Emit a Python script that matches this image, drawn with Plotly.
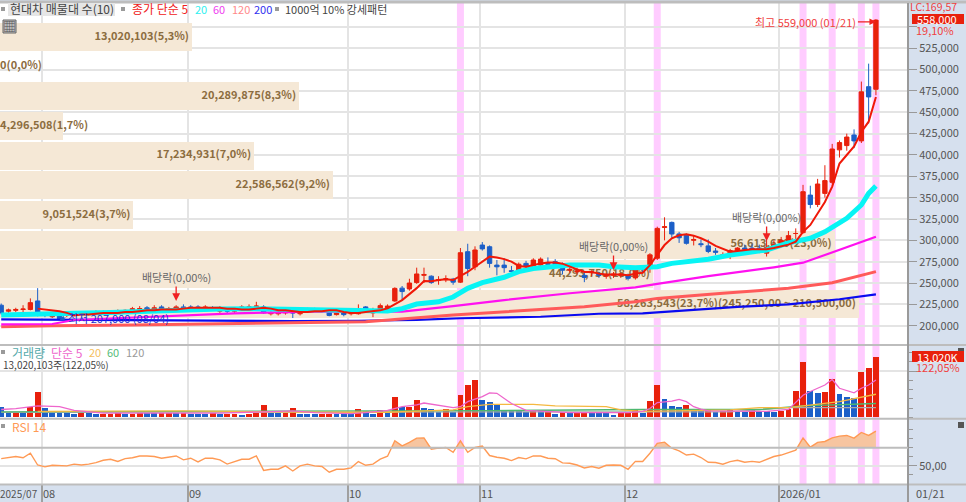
import numpy as np
import plotly.graph_objects as go

# candles, thousand won, one row per trading day (10 per line)
open_k = [224, 217, 218, 219, 219, 229, 212, 210.5, 214, 212,
          213, 215, 214, 215, 216, 215, 216, 216, 217, 219,
          221, 219, 222, 219, 218, 222, 222, 222, 220, 221,
          217, 218, 217, 220, 221, 222, 222, 214, 214, 215,
          216, 214, 217, 219, 218, 216, 213, 215, 214, 214,
          222, 215, 217.5, 220, 229, 244, 243, 250.5, 259, 258,
          253, 254, 254.5, 251, 286.7, 269, 294.5, 292.5, 271, 271,
          264.5, 264, 273, 270.3, 271, 273, 275, 272, 265, 263,
          259, 262, 261, 258, 259, 259, 259, 256, 267, 267,
          279, 315, 321, 307.5, 306, 300, 296, 293.5, 287.5, 282,
          284, 288, 291, 291, 291, 285, 292, 296, 296.5, 308,
          309, 353, 342, 355, 368, 406, 411, 423.4, 416.5, 480,
          477]
high_k = [226, 220, 221, 224, 232, 244, 214, 213, 215, 215,
          216, 217, 216, 218, 218, 218, 219, 219, 222, 223,
          223, 224, 224, 222, 224, 225, 224, 224, 224, 223,
          223, 219, 221, 224, 225, 228, 224, 217, 217, 220,
          218, 219, 221, 221, 219, 217, 216, 216, 216, 225,
          223, 221, 226, 225, 245, 246.5, 255, 268, 268, 259,
          258, 259, 256, 291, 296, 293, 298, 294, 277, 279,
          270, 274, 276, 279, 280, 280, 278, 274, 272, 268,
          264, 265, 263, 261, 263, 262, 261, 268, 270, 285,
          316, 327, 322, 310, 308, 306, 301, 301, 291, 286,
          290, 292, 295, 296, 295, 311, 300, 304, 311, 314,
          365, 364, 372, 388, 413, 417, 425, 430, 486, 507,
          559]
low_k = [213, 215, 216, 216, 218, 211, 210, 209, 207, 210,
         212, 213, 212, 213, 214, 213, 214, 214, 215, 217,
         217, 217, 217, 217, 216, 219, 219, 218, 218, 218,
         215, 214, 215, 218, 219, 220, 214, 212, 212, 213,
         209, 212, 215, 216, 216, 211, 212, 211, 212, 213,
         216, 210, 215, 218, 228, 229, 241, 249, 250, 249,
         248, 251, 248, 250, 258, 265, 288, 268, 259, 262,
         259, 262, 266, 266, 269, 267, 268, 260, 262, 260,
         251, 258, 256, 255, 256, 256, 253, 254, 262, 262,
         277, 300, 303, 297, 295, 294, 292, 285, 283, 279,
         278, 286, 286, 285, 285, 281, 289, 293, 295, 297,
         308, 337.5, 339, 350, 366, 397, 405, 408, 414, 437,
         470]
close_k = [215, 218.5, 219, 219.5, 227, 212, 212, 212, 208, 213,
           214, 214, 215, 216, 215, 217, 217, 218, 220, 220,
           219, 221, 219, 220, 222, 221, 221, 220, 222, 220,
           220.4, 217, 220, 222, 222, 223, 215, 215, 216, 218.5,
           215, 218, 219.5, 218, 217, 212, 215, 213, 214.5, 220,
           218, 218.5, 223.5, 223, 243.7, 240, 250, 260.6, 260, 250.5,
           254, 255, 251, 285.5, 267, 288.7, 290, 273, 269, 268,
           263.5, 272, 270, 277, 278, 272, 272, 265, 266, 264,
           256.5, 263, 259, 259.5, 260.5, 260.5, 255.5, 266, 266, 283,
           314, 316, 307.4, 303, 296.5, 301, 295, 287, 286, 283,
           288, 291, 289.5, 290, 289.5, 292, 295, 300, 305.5, 308,
           357, 342, 366, 370, 407, 414.5, 421, 416.5, 474, 468,
           558]

# the 5 day line only shows from the sixth candle on
ma5_days = list(range(5, 121))
ma5_k = [220, 219, 218, 217, 215,
         212, 213, 213, 214, 215, 215, 215, 216, 216, 217,
         218, 218, 219, 219, 219, 220, 221, 221, 221, 221,
         221, 220, 220, 219, 219, 220, 221, 220, 218, 218,
         217, 216, 216, 217, 217, 218, 218, 216, 215, 215,
         216, 217, 218, 220.4, 225, 230, 237, 244, 252.3, 252,
         253.5, 254.5, 253.5, 258, 263, 269, 275, 281, 280, 278,
         275, 270, 269, 271, 273, 274, 274, 272.7, 269, 266,
         263, 263, 261, 260, 260, 260, 259, 261, 262, 271,
         283, 294.5, 302.4, 306, 307, 305.5, 302.4, 298.4, 293.4, 289.8,
         286.7, 287.5, 288.7, 289.5, 289.5, 289.5, 291, 293, 295, 298.4,
         310, 318, 332, 345, 363, 390, 400, 410, 427, 439,
         468]

# longer averages, read at the bends of each line
ma20_idx = [0, 5, 10, 15, 20, 25, 30, 35, 40, 44, 53, 55, 57, 60, 62, 64, 66, 69, 71, 73, 76, 78, 82, 84, 87, 90, 92, 97, 100, 105, 108, 111, 113, 116, 118, 119, 120]
ma20_k = [212.5, 213, 214.5, 215.5, 217, 218.5, 219.5, 220, 219.5, 218.5, 217.2, 220, 225.4, 228, 233.6, 243.8, 250.4, 256.7, 263.3, 267, 269, 271, 271, 269, 268, 269, 273, 277.8, 282.8, 288.7, 297, 302.4, 310, 325.8, 341.4, 355, 363.6]
ma60_idx = [0, 7, 10, 23, 32, 43, 55, 62, 69, 78, 87, 90, 97, 106, 110, 113, 116, 120]
ma60_k = [201.6, 202, 206.7, 211.4, 214.5, 216.4, 216.4, 223, 230, 238, 245, 248.9, 258, 268.4, 273.8, 282.8, 291.8, 304.3]
ma120_idx = [0, 7, 18, 28, 40, 50, 62, 71, 80, 87, 90, 99, 108, 114, 120]
ma120_k = [198.9, 200, 200.8, 202, 202.8, 204.7, 212.5, 217.2, 222.3, 228, 232, 238, 243.8, 250.4, 263.3]
ma200_idx = [0, 10, 25, 40, 49, 57, 63, 74, 82, 88, 101, 108, 115, 120]
ma200_k = [207.5, 206.8, 206, 205.5, 205.8, 206.8, 208.7, 210.5, 214, 214.5, 222, 225, 231, 236.8]

# volume, million shares
volume_m = [2.3, 1.0, 1.0, 1.0, 2.2, 5.4, 2.0, 1.0, 1.0, 1.0,
            0.7, 1.0, 1.0, 0.7, 0.7, 0.7, 1.0, 0.7, 0.7, 1.0,
            0.9, 0.9, 0.9, 0.9, 0.9, 1.0, 0.7, 0.7, 0.7, 0.9,
            0.7, 0.7, 0.7, 0.6, 0.7, 0.9, 2.6, 0.9, 0.9, 0.9,
            2.0, 0.7, 0.7, 0.7, 0.7, 0.7, 0.7, 0.7, 0.7, 1.7,
            1.4, 0.8, 1.6, 1.1, 4.5, 2.3, 2.3, 3.8, 2.1, 1.7,
            1.2, 1.8, 1.2, 4.9, 6.9, 8.0, 3.8, 3.3, 2.7, 1.45,
            1.45, 1.45, 1.2, 1.4, 1.4, 1.1, 0.7, 1.1, 0.9, 0.9,
            1.2, 0.9, 0.9, 0.9, 0.6, 1.0, 1.0, 1.7, 1.0, 3.5,
            7.1, 4.0, 2.4, 2.2, 2.6, 1.6, 1.6, 1.9, 1.2, 1.4,
            1.8, 1.2, 1.2, 1.9, 1.4, 1.4, 1.2, 1.4, 1.8, 5.7,
            12.1, 5.6, 5.3, 5.5, 8.4, 5.1, 4.5, 4.1, 9.8, 10.7,
            13.02]
volume_rose = [0, 0, 1, 0, 1, 1, 0, 0, 0, 0,
               0, 1, 0, 0, 1, 1, 1, 0, 1, 1,
               0, 0, 1, 1, 0, 1, 0, 0, 0, 1,
               0, 1, 1, 0, 1, 1, 1, 0, 0, 1,
               1, 0, 0, 0, 1, 1, 0, 0, 0, 1,
               0, 0, 1, 0, 1, 0, 1, 1, 0, 0,
               0, 1, 0, 1, 1, 1, 0, 0, 0, 0,
               0, 0, 0, 1, 0, 1, 0, 1, 0, 1,
               1, 0, 0, 0, 0, 1, 1, 1, 0, 1,
               1, 0, 0, 0, 1, 0, 0, 1, 0, 1,
               1, 0, 0, 1, 0, 0, 0, 1, 1, 1,
               1, 0, 0, 1, 1, 0, 0, 0, 1, 1,
               1]

vol_ma5_idx = [0, 2, 5, 8, 10, 14, 20, 30, 36, 40, 43, 48, 50, 53, 55, 57, 58, 60, 62, 63, 64, 66, 67, 68, 70, 72, 78, 86, 88, 89, 90, 92, 93, 94, 95, 96, 97, 105, 108, 110, 111, 113, 114, 115, 117, 118, 119, 120]
vol_ma5 = [1.7, 1.9, 2.5, 2.3, 1.5, 0.9, 0.9, 0.9, 1.2, 1.4, 1.0, 0.8, 1.0, 1.5, 2.3, 2.7, 3.1, 2.6, 2.1, 2.3, 3.4, 4.5, 5.3, 5.2, 3.0, 1.5, 1.0, 1.0, 1.3, 1.9, 3.2, 3.5, 3.9, 3.4, 2.3, 1.8, 1.4, 1.3, 1.7, 4.8, 5.6, 7.0, 8.2, 6.3, 5.3, 6.3, 7.0, 8.1]
vol_ma20_idx = [5, 25, 44, 53, 62, 64, 67, 73, 76, 83, 85, 88, 100, 104, 108, 110, 115, 120]
vol_ma20 = [1.3, 1.4, 1.1, 1.1, 1.6, 2.3, 2.8, 2.8, 2.5, 2.3, 1.6, 1.3, 1.6, 2.1, 2.1, 2.5, 3.4, 5.0]
vol_ma60_idx = [0, 30, 53, 62, 67, 88, 104, 110, 120]
vol_ma60 = [1.2, 1.3, 1.3, 1.45, 1.45, 1.7, 1.7, 2.5, 3.0]
vol_ma120_idx = [0, 50, 100, 108, 120]
vol_ma120 = [1.1, 1.1, 1.2, 2.1, 2.1]

rsi = [58, 59.6, 60.4, 59, 64, 51, 49, 50.7, 50, 50,
       52, 51, 52, 53.7, 56.3, 57.4, 55, 58, 59, 61,
       61, 60.4, 58.5, 59.6, 61, 56.7, 58.5, 54.4, 58.5, 58.5,
       56.7, 52, 55, 57.4, 57.4, 61, 45, 46.3, 46.3, 50,
       44.4, 50, 52, 50, 49.3, 43, 46.3, 46.3, 47.8, 54.8,
       50.7, 51.9, 57.4, 60.7, 77.8, 72.2, 76, 80.7, 81, 68.5,
       69.6, 70.4, 65, 77.8, 65, 70.4, 71.9, 61.5, 59.6, 58.5,
       55.9, 59.3, 57.8, 61, 61, 58.5, 58, 53.3, 53, 51,
       47.8, 49.3, 47.4, 50.7, 51, 50.7, 46.3, 55, 54.8, 64,
       75, 76.3, 69.6, 66.7, 62, 63, 59.3, 54, 53.7, 51.9,
       54.8, 56.3, 54, 55, 54, 57.4, 60.4, 62, 65, 67.4,
       81, 70.7, 76, 77, 81, 83, 83.7, 80.7, 87, 83.7,
       88.5]

# volume profile, top bin first
profile_mid_k = [225.5 + 34.75 * k for k in range(9, -1, -1)]
profile_vol_m = [13.020103, 0, 20.289875, 4.296508, 17.234931, 22.586562, 9.051524, 56.61365, 44.29375, 58.263543]
profile_text = ["13,020,103(5,3%)", "0(0,0%)", "20,289,875(8,3%)", "4,296,508(1,7%)", "17,234,931(7,0%)",
                "22,586,562(9,2%)", "9,051,524(3,7%)", "56,613,650(23,0%)", "44,293,750(18,0%)",
                "58,263,543(23,7%)(245,250,00 ~ 210,500,00)"]

pink_days = [63, 90, 110, 114, 118, 120]
dividend_days = [24, 84, 105]
dividend_tip_k = [229, 265.3, 299.3]
month_days = [6, 26, 48, 66, 86, 107]
month_labels = ["08", "09", "10", "11", "12", "2026/01"]
price_ticks = list(range(200, 551, 25))

FONT = "Noto Sans CJK KR"
W, H = 966, 502
PLOT_R = 908 / W


def px(x):
    return x / W


def py(y):
    return 1 - y / H


def to_won(values):
    return (np.array(values) * 1000).tolist()


def note(x, y, text, color, size=11, **kw):
    # annotations carry about 2px of padding on the left
    return dict(xref="paper", yref="paper", x=px(x - 2), y=py(y), text=text, showarrow=False, xanchor="left",
                yanchor="middle", font=dict(family=FONT, size=size, color=color), **kw)


days = list(range(len(close_k)))
x_range = [-0.165, 124.4]
grid_x = [d - 0.36 for d in month_days]
GRID = "#E4E4E4"

fig = go.Figure()

# profile bars sit on the base axes so everything else draws over them
fig.add_trace(go.Bar(x=profile_vol_m, y=to_won(profile_mid_k), orientation="h", width=33000, marker_color="#F5E8D6",
                     marker_line_width=0, xaxis="x", yaxis="y"))
for vol, mid, label in zip(profile_vol_m, profile_mid_k, profile_text):
    fits = vol > 8
    fig.add_trace(go.Scatter(x=[vol - 0.2 if fits else 0], y=[mid * 1000], mode="text", text=[label],
                             textposition="middle left" if fits else "middle right",
                             textfont=dict(family=FONT, size=11, color="#8C6D3F", weight="bold"),
                             xaxis="x", yaxis="y"))

fig.add_trace(go.Candlestick(x=days, open=to_won(open_k), high=to_won(high_k), low=to_won(low_k), close=to_won(close_k),
                             increasing=dict(line=dict(color="#E8200C", width=1), fillcolor="#E8200C"),
                             decreasing=dict(line=dict(color="#1C5FC8", width=1), fillcolor="#1C5FC8"),
                             whiskerwidth=0, xaxis="x2", yaxis="y"))
fig.add_trace(go.Scatter(x=ma200_idx, y=to_won(ma200_k), mode="lines", line=dict(color="#0A0AF0", width=2.2), xaxis="x2", yaxis="y"))
fig.add_trace(go.Scatter(x=ma120_idx, y=to_won(ma120_k), mode="lines", line=dict(color="#FF5A5A", width=3), xaxis="x2", yaxis="y"))
fig.add_trace(go.Scatter(x=ma60_idx, y=to_won(ma60_k), mode="lines", line=dict(color="#FF10F0", width=2.2), xaxis="x2", yaxis="y"))
fig.add_trace(go.Scatter(x=ma20_idx, y=to_won(ma20_k), mode="lines", line=dict(color="#08F4F4", width=5), xaxis="x2", yaxis="y"))
fig.add_trace(go.Scatter(x=ma5_days, y=to_won(ma5_k), mode="lines", line=dict(color="#F01808", width=2), xaxis="x2", yaxis="y"))

# volume pane
fig.add_trace(go.Bar(x=days, y=volume_m, width=0.8, marker_line_width=0,
                     marker_color=["#E8200C" if up else "#1C5FC8" for up in volume_rose], xaxis="x3", yaxis="y3"))
for idx, vals, color in [(vol_ma120_idx, vol_ma120, "#A8A8A8"), (vol_ma60_idx, vol_ma60, "#4DB870"),
                         (vol_ma20_idx, vol_ma20, "#F5B840"), (vol_ma5_idx, vol_ma5, "#EE66CC")]:
    fig.add_trace(go.Scatter(x=idx, y=vals, mode="lines", line=dict(color=color, width=1.3), xaxis="x3", yaxis="y3"))

# rsi pane, the part above 70 gets filled
fill_x, fill_y = [], []
for i, r in enumerate(rsi):
    if i and (rsi[i - 1] - 70) * (r - 70) < 0:
        fill_x.append(i - 1 + (70 - rsi[i - 1]) / (r - rsi[i - 1]))
        fill_y.append(70)
    fill_x.append(i)
    fill_y.append(max(r, 70))
fig.add_trace(go.Scatter(x=fill_x, y=[70] * len(fill_x), mode="lines", line=dict(width=0), xaxis="x4", yaxis="y4"))
fig.add_trace(go.Scatter(x=fill_x, y=fill_y, mode="lines", line=dict(width=0), fill="tonexty", fillcolor="#F7C5A0", xaxis="x4", yaxis="y4"))
fig.add_trace(go.Scatter(x=days, y=rsi, mode="lines", line=dict(color="#FF9A55", width=1.4), xaxis="x4", yaxis="y4"))

shapes = []
for d in pink_days:
    shapes.append(dict(type="rect", xref="x2", yref="paper", x0=d - 0.48, x1=d + 0.48, y0=py(484), y1=py(3),
                       fillcolor="#FFCCFF", line_width=0, layer="below"))
for y, c, w in [(2, "#BDBDBD", 3), (345, "#BDBDBD", 2), (418.7, "#BDBDBD", 2), (484.5, "#BDBDBD", 2)]:
    shapes.append(dict(type="line", xref="paper", yref="paper", x0=0, x1=1, y0=py(y), y1=py(y), line=dict(color=c, width=w)))
shapes.append(dict(type="line", xref="paper", yref="paper", x0=PLOT_R, x1=PLOT_R, y0=0, y1=py(3), line=dict(color="#9A9A9A", width=2)))
shapes.append(dict(type="line", xref="x4", yref="y4", x0=x_range[0], x1=x_range[1], y0=70, y1=70, line=dict(color="#BDBDBD", width=2)))

# legend furniture
squares = [(3, 9), (123, 9), (277, 9), (3, 352), (3, 426)]
for x, y in squares:
    shapes.append(dict(type="rect", xref="paper", yref="paper", x0=px(x - 2), x1=px(x + 2), y0=py(y + 2), y1=py(y - 2),
                       fillcolor="#9A9A9A", line_width=0))
for y in (351, 425):
    shapes.append(dict(type="rect", xref="paper", yref="paper", x0=px(958), x1=px(964), y0=py(y + 3), y1=py(y - 3),
                       fillcolor="#555555", line_width=0))
for y0, y1 in [(14, 24), (351, 362)]:
    shapes.append(dict(type="rect", xref="paper", yref="paper", x0=px(912), x1=px(964), y0=py(y1), y1=py(y0),
                       fillcolor="#E8200C", line_width=0))
shapes.append(dict(type="rect", xref="paper", yref="paper", x0=px(8), x1=px(115), y0=py(16), y1=py(3),
                   fillcolor="#E6E6E6", line_width=0))
shapes.append(dict(type="rect", xref="paper", yref="paper", x0=px(3), x1=px(16), y0=py(33), y1=py(20),
                   fillcolor="#BEBEBE", line=dict(color="#666666", width=1)))

notes = [
    note(10, 9, "현대차 매물대 수(10)", "#444444", size=12),
    note(132, 9, "종가 단순 5", "#F02020", size=12),
    note(195, 9, "20", "#30F0F0"),
    note(213, 9, "60", "#F040F0"),
    note(232, 9, "120", "#FF8A8A"),
    note(254, 9, "200", "#3030F0"),
    note(285, 9, "1000억 10% 강세패턴", "#444444"),
    note(3, 26, "▦", "#555555", size=13),
    note(12, 352, "거래량", "#55AAAA", size=12),
    note(51, 352, "단순 5", "#EE66CC", size=12),
    note(89, 352, "20", "#F5C060"),
    note(107, 352, "60", "#55BB77"),
    note(126, 352, "120", "#999999"),
    note(3, 364, "13,020,103주(122,05%)", "#444444", size=10),
    note(12, 426, "RSI 14", "#FF9955", size=12),
    note(910, 7, "LC:169,57", "#F04040", size=10.5),
    note(917, 19, "558,000", "#FFFFFF", size=11),
    note(916, 30, "19,10%", "#F04040"),
    note(917, 356.5, "13,020K", "#FFFFFF", size=11),
    note(916, 367, "122,05%", "#F04040"),
    note(916, 493, "01/21", "#555555"),
    note(0, 493, "2025/07", "#555555", size=10),
]
for d, label in zip(grid_x, month_labels):
    notes.append(dict(xref="x4", yref="paper", x=d, y=py(493), text=label, showarrow=False, xanchor="left", xshift=-1,
                      yanchor="middle", font=dict(family=FONT, size=11, color="#555555")))
for d, tip in zip(dividend_days, dividend_tip_k):
    notes.append(dict(xref="x2", yref="y", x=d, y=tip * 1000, ax=0, ay=-24, text="배당락(0,00%)", showarrow=True,
                      arrowcolor="#F02020", arrowhead=2, arrowwidth=1.3, arrowsize=1.2,
                      font=dict(family=FONT, size=11, color="#666666")))
notes.append(dict(xref="x2", yref="y", x=120, y=556000, ax=-18, ay=0, xanchor="right", text="최고 559,000 (01/21)",
                  showarrow=True, arrowcolor="#F02020", arrowhead=2, arrowwidth=1.3,
                  font=dict(family=FONT, size=11, color="#F04040")))
notes.append(dict(xref="x2", yref="y", x=8, y=207000, ax=6, ay=-2, xanchor="left", text="최저 207,000 (08/04)",
                  showarrow=True, arrowcolor="#1C5FC8", arrowhead=2, arrowwidth=1,
                  font=dict(family=FONT, size=11, color="#2030D0")))

tick_font = dict(family=FONT, size=11, color="#555555")
x_common = dict(domain=[0, PLOT_R], range=x_range, tickvals=grid_x, ticktext=[""] * len(grid_x), showgrid=True,
                gridcolor=GRID, gridwidth=1.5, zeroline=False, ticks="")

fig.update_layout(
    width=W, height=H, margin=dict(l=0, r=0, t=0, b=0), showlegend=False, bargap=0, boxgap=0.15,
    paper_bgcolor="#D6E0EE", plot_bgcolor="#FFFFFF", barmode="overlay",
    font=dict(family=FONT), shapes=shapes, annotations=notes,
    xaxis=dict(domain=[0, PLOT_R], range=[0, 61.6], visible=False, anchor="y"),
    xaxis2=dict(x_common, overlaying="x", anchor="y", rangeslider=dict(visible=False), side="bottom"),
    xaxis3=dict(x_common, anchor="y3"),
    xaxis4=dict(x_common, anchor="y4", ticks="outside", ticklen=17, tickcolor="#A0A0A0", tickwidth=1.5),
    yaxis=dict(domain=[py(345), py(3)], range=[177390, 578050], side="right", anchor="x",
               tickvals=[t * 1000 for t in price_ticks],
               ticktext=[f"{t},000" if t < 550 else "" for t in price_ticks],
               showgrid=True, gridcolor=GRID, gridwidth=1.5, zeroline=False, ticks="outside", ticklen=8,
               tickcolor="#999999", tickfont=tick_font),
    yaxis3=dict(domain=[py(418.7), py(345)], range=[-0.3, 15.68], side="right", anchor="x3", tickvals=[10],
                ticktext=[""], showgrid=True, gridcolor=GRID, gridwidth=1.5, zeroline=False, ticks="outside",
                ticklen=8, tickcolor="#999999",
                minor=dict(tickvals=[0, 2, 4, 6, 8, 12, 14], ticks="outside", ticklen=4, tickcolor="#999999", showgrid=False)),
    yaxis4=dict(domain=[py(484), py(418.7)], range=[30, 102.2], side="right", anchor="x4", tickvals=[50],
                ticktext=["50,00"], showgrid=True, gridcolor=GRID, gridwidth=1.5, zeroline=False, ticks="outside",
                ticklen=8, tickcolor="#999999", tickfont=tick_font,
                minor=dict(tickvals=[40, 60, 70, 80, 90], ticks="outside", ticklen=4, tickcolor="#999999", showgrid=False)),
)

fig.write_html("out.html", config=dict(displayModeBar=False), post_script="document.body.style.margin='0';")
